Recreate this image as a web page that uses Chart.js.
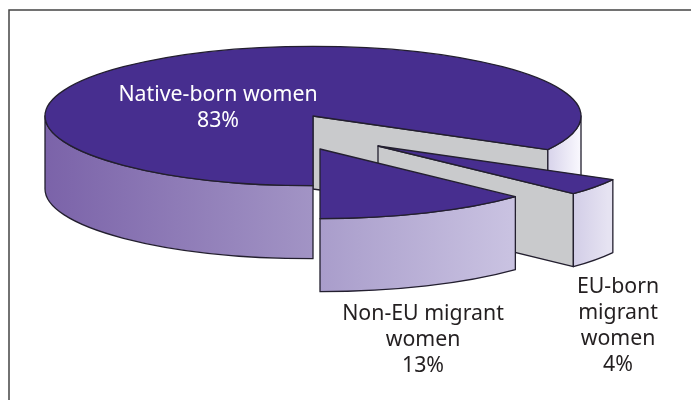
<!DOCTYPE html>
<html>
<head>
<meta charset="utf-8">
<title>Women by origin</title>
<script src="https://cdn.jsdelivr.net/npm/chart.js@4"></script>
<style>
    html, body { margin: 0; padding: 0; background: #fff; overflow: hidden; }
    canvas { display: block; }
</style>
</head>
<body>
<canvas id="mainChart" width="691" height="400"></canvas>
<script>
// Data, in drawing order (clockwise from the bottom)
const categories = ["Native-born women", "EU-born migrant women", "Non-EU migrant women"];
const shares = [83, 4, 13];
const labelLines = [["Native-born women"], ["EU-born", "migrant", "women"], ["Non-EU migrant", "women"]];

// Look of the fake 3D pie
const squash = 0.26;
const depth = 73;
const explode = [[0, 0], [65, 30], [7, 33]];
const topColor = "#472e8f";
const cutColor = "#c9cacc";
const lineColor = "#231f2f";
const wallStops = [
    [[46, "#7b63a9"], [313, "#a294c5"], [540, "#cfcae6"], [582, "#fbfaff"]],
    [[570, "#d0cbe6"], [608, "#e6e3f2"]],
    [[321, "#a99dcb"], [510, "#c9c2e1"]],
];
const labelPos = [[218, 95, "#fff"], [618, 287, "#231f20"], [423, 314, "#231f20"]];
const lineGap = 26;

function wallFill(ctx, stops) {
    const x0 = stops[0][0];
    const x1 = stops[stops.length - 1][0];
    const g = ctx.createLinearGradient(x0, 0, x1, 0);
    stops.forEach(function (s) { g.addColorStop((s[0] - x0) / (x1 - x0), s[1]); });
    return g;
}

// Flat face going down from the cut edge of a slice
function drawCutFace(ctx, x, y, r, angle) {
    const ex = x + r * Math.cos(angle);
    const ey = y + r * squash * Math.sin(angle);
    ctx.beginPath();
    ctx.moveTo(x, y);
    ctx.lineTo(ex, ey);
    ctx.lineTo(ex, ey + depth);
    ctx.lineTo(x, y + depth);
    ctx.closePath();
    ctx.fillStyle = cutColor;
    ctx.fill();
    ctx.stroke();
}

// Rim of a slice, only where it faces the viewer
function drawWall(ctx, x, y, r, start, end, fill) {
    for (let k = -1; k < 3; k++) {
        const a0 = Math.max(start, k * 2 * Math.PI);
        const a1 = Math.min(end, k * 2 * Math.PI + Math.PI);
        if (a1 <= a0) continue;
        ctx.beginPath();
        ctx.ellipse(x, y, r, r * squash, 0, a0, a1);
        ctx.ellipse(x, y + depth, r, r * squash, 0, a1, a0, true);
        ctx.closePath();
        ctx.fillStyle = fill;
        ctx.fill();
        ctx.stroke();
    }
}

const pie3d = {
    id: "pie3d",
    beforeDraw(chart) {
        const ctx = chart.ctx;
        ctx.save();
        ctx.strokeStyle = "#444";
        ctx.lineWidth = 1.5;
        ctx.beginPath();
        ctx.moveTo(9, 400);
        ctx.lineTo(9, 10);
        ctx.lineTo(691, 10);
        ctx.stroke();
        ctx.restore();
    },
    beforeDatasetDraw(chart, args) {
        const ctx = chart.ctx;
        args.meta.data.forEach(function (arc, i) {
            const x = arc.x + explode[i][0];
            const y = arc.y + explode[i][1];
            const r = arc.outerRadius;
            const start = arc.startAngle;
            const end = arc.endAngle;

            ctx.save();
            ctx.strokeStyle = lineColor;
            ctx.lineWidth = 1.3;
            ctx.lineJoin = "round";
            if (Math.cos(end) > 1e-6) drawCutFace(ctx, x, y, r, end);
            if (Math.cos(start) < -1e-6) drawCutFace(ctx, x, y, r, start);
            drawWall(ctx, x, y, r, start, end, wallFill(ctx, wallStops[i]));

            // top face comes from the library's own arc, flattened
            ctx.save();
            ctx.translate(x, y);
            ctx.scale(1, squash);
            ctx.translate(-arc.x, -arc.y);
            arc.draw(ctx, chart.chartArea);
            ctx.restore();

            ctx.beginPath();
            ctx.moveTo(x, y);
            ctx.ellipse(x, y, r, r * squash, 0, start, end);
            ctx.closePath();
            ctx.stroke();
            ctx.restore();
        });
        return false;
    },
    afterDraw(chart) {
        const ctx = chart.ctx;
        ctx.save();
        ctx.font = '21.3px "Noto Sans", sans-serif';
        ctx.textAlign = "center";
        ctx.textBaseline = "middle";
        labelLines.forEach(function (lines, i) {
            const all = lines.concat([shares[i] + "%"]);
            ctx.fillStyle = labelPos[i][2];
            all.forEach(function (t, j) {
                ctx.fillText(t, labelPos[i][0], labelPos[i][1] + j * lineGap);
            });
        });
        ctx.restore();
    },
};

const chartInstance = new Chart(document.getElementById("mainChart").getContext("2d"), {
    type: "pie",
    data: {
        labels: categories,
        datasets: [
            {
                data: shares,
                backgroundColor: topColor,
                borderWidth: 0,
                clip: false,
            },
        ],
    },
    options: {
        responsive: false,
        animation: false,
        rotation: 180,
        radius: 268,
        // puts the centre of the pie at 313,116
        layout: { padding: { left: 0, top: 0, right: 65, bottom: 168 } },
        plugins: { legend: { display: false }, tooltip: { enabled: false } },
    },
    plugins: [pie3d],
});
</script>
</body>
</html>
